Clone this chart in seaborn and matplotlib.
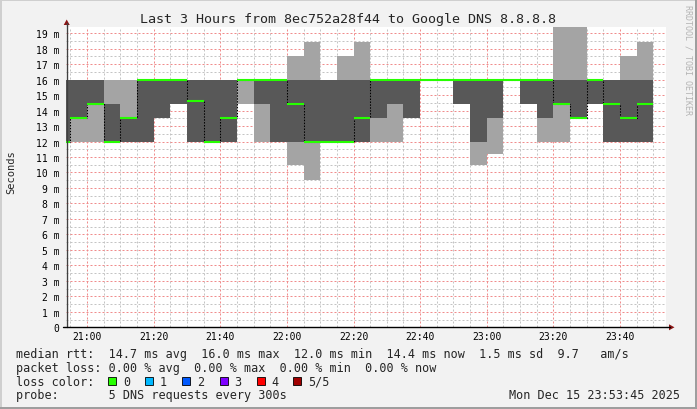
import matplotlib
matplotlib.use("Agg")
import numpy as np
import matplotlib.pyplot as plt
import seaborn as sns
from matplotlib.patches import Rectangle, Polygon
from matplotlib.lines import Line2D

# ---------------- data ----------------
title = "Last 3 Hours from 8ec752a28f44 to Google DNS 8.8.8.8"
first_interval_start = "20:50"
interval_minutes = 5
window_start = "20:53:45"
window_end = "23:53:45"

# five sorted DNS round-trip times (ms) per 5-minute interval
ping1 = [12, 12, 12, 12, 12, 12, 13.5, 14.4, 12, 12, 12, 14.4, 12, 12, 10.5, 9.5, 12, 12,
         12, 12, 12, 13.5, 16, 16, 14.4, 10.5, 11.2, 16, 14.4, 12, 12, 13.5, 14.4, 12, 12, 12]
ping2 = [12, 13.5, 14.4, 12, 12, 12, 13.5, 14.4, 12, 12, 12, 16, 14.4, 12, 12, 12, 12, 12,
         12, 13.5, 14.4, 13.5, 16, 16, 14.4, 12, 13.5, 16, 14.4, 13.5, 14.4, 13.5, 14.4, 12, 12, 12]
median = [12, 13.5, 14.4, 12, 13.5, 16, 16, 16, 14.6, 12, 13.5, 16, 16, 16, 14.4, 12, 12, 12,
          13.5, 16, 16, 16, 16, 16, 16, 16, 16, 16, 16, 16, 14.4, 13.5, 16, 14.4, 13.5, 14.4]
ping4 = [16, 16, 16, 14.4, 13.5, 16, 16, 16, 16, 16, 16, 16, 16, 16, 16, 16, 16, 16,
         16, 16, 16, 16, 16, 16, 16, 16, 16, 16, 16, 16, 16, 16, 16, 16, 16, 16]
ping5 = [16, 16, 16, 16, 16, 16, 16, 16, 16, 16, 16, 16, 16, 16, 17.5, 18.4, 16, 17.5,
         18.4, 16, 16, 16, 16, 16, 16, 16, 16, 16, 16, 16, 20, 20, 16, 16, 17.5, 18.4]

x_tick_labels = ["21:00", "21:20", "21:40", "22:00", "22:20", "22:40", "23:00", "23:20", "23:40"]
y_tick_values = list(range(0, 20))

legend_rtt = "median rtt:  14.7 ms avg  16.0 ms max  12.0 ms min  14.4 ms now  1.5 ms sd  9.7   am/s"
legend_loss = "packet loss: 0.00 % avg  0.00 % max  0.00 % min  0.00 % now"
loss_labels = ["0", "1", "2", "3", "4", "5/5"]
loss_colors = ["#26ff00", "#00b8ff", "#0059ff", "#7e00ff", "#ff0000", "#a00000"]
probe_line = "probe:       5 DNS requests every 300s"
date_text = "Mon Dec 15 23:53:45 2025"

# ---------------- style ----------------
sns.set_style("white")
plt.rcParams["font.family"] = ["DejaVu Sans Mono"]
MONO = "DejaVu Sans Mono"

BG = "#f2f2f2"
LIGHT = "#a4a4a4"
DARK = "#585858"
GREEN = "#26ff00"
ARROW = "#8b1515"

W, H = 697, 410


def fx(p):
    return p / W


def fy(p):
    return 1 - p / H


def to_min(s):
    parts = [int(v) for v in s.split(":")]
    while len(parts) < 3:
        parts.append(0)
    return parts[0] * 60 + parts[1] + parts[2] / 60.0


n = len(median)
starts = to_min(first_interval_start) + interval_minutes * np.arange(n)
edges = np.append(starts, starts[-1] + interval_minutes)


def ext(a):
    a = np.asarray(a, dtype=float)
    return np.append(a, a[-1])


fig = plt.figure(figsize=(W / 100, H / 100), dpi=100, facecolor=BG)

left, right, top, bottom = 66.2, 665.8, 27.5, 328.3
ax = fig.add_axes([fx(left), fy(bottom), fx(right) - fx(left), fy(top) - fy(bottom)])
ax.set_facecolor("white")

# smoke
ax.fill_between(edges, ext(ping1), ext(ping5), step="post", color=LIGHT, lw=0, zorder=2)
ax.fill_between(edges, ext(ping2), ext(ping4), step="post", color=DARK, lw=0, zorder=2.1)

# median: dotted step connector (seaborn) + green segments
sns.lineplot(x=edges, y=ext(median), drawstyle="steps-post", color="black",
             linestyle=(0, (1.4, 1.4)), linewidth=0.75, errorbar=None, ax=ax, zorder=3)
ax.hlines(median, starts, starts + interval_minutes, color=GREEN, lw=1.5, zorder=4)

# axes limits / ticks
ax.set_xlim(to_min(window_start), to_min(window_end))
ax.set_ylim(0, 19.43)
major_x = [to_min(s) for s in x_tick_labels]
ax.set_xticks(major_x)
ax.set_xticklabels(x_tick_labels)
ax.set_xticks(np.arange(to_min("20:55"), to_min(window_end), 5), minor=True)
ax.set_yticks(y_tick_values)
ax.set_yticklabels(["0" if v == 0 else f"{v} m" for v in y_tick_values])
ax.set_yticks(np.arange(0.5, 19.5, 0.5), minor=True)
ax.tick_params(axis="both", which="both", length=0, labelsize=7, colors="black")
ax.tick_params(axis="x", pad=2.6)
ax.tick_params(axis="y", pad=4.8)
ax.set_xlabel("")
ax.set_ylabel("")

ax.grid(True, which="minor", color="#c4c4c4", linestyle=(0, (2, 2)), linewidth=0.72, zorder=0.5)
ax.grid(True, which="major", color="#f08c8c", linestyle=(0, (2, 2)), linewidth=0.72, zorder=0.6)
ax.set_axisbelow(True)
for s in ax.spines.values():
    s.set_visible(False)

# axis lines and arrows (figure pixel coords)
fig.add_artist(Line2D([fx(66.7), fx(66.7)], [fy(328.3), fy(24)], color="#404040", lw=1.0))
fig.add_artist(Line2D([fx(63), fx(670)], [fy(328.3), fy(328.3)], color="black", lw=1.0))
fig.add_artist(Polygon([[fx(66.7), fy(20.5)], [fx(63.7), fy(26)], [fx(69.7), fy(26)]],
                       closed=True, color=ARROW, lw=0))
fig.add_artist(Polygon([[fx(674.5), fy(328.3)], [fx(669), fy(325.3)], [fx(669), fy(331.3)]],
                       closed=True, color=ARROW, lw=0))

# title and labels
fig.text(fx(348), fy(19.5), title, ha="center", va="center", fontsize=9.6, family=MONO)
fig.text(fx(11), fy(172.5), "Seconds", rotation=90, ha="center", va="center",
         fontsize=7.5, family=MONO)
fig.text(fx(688), fy(5), "RRDTOOL / TOBI OETIKER", rotation=-90, ha="center", va="top",
         fontsize=6, family=MONO, color="#b4b4b4")

# legend lines
LS = 8.5
fig.text(fx(16), fy(354.3), legend_rtt, ha="left", va="center", fontsize=LS, family=MONO)
fig.text(fx(16), fy(368.3), legend_loss, ha="left", va="center", fontsize=LS, family=MONO)
fig.text(fx(16), fy(382.3), "loss color:", ha="left", va="center", fontsize=LS, family=MONO)
box_x = [108.4, 145.3, 182.2, 219.6, 256.9, 293.3]
for lab, col, bx in zip(loss_labels, loss_colors, box_x):
    fig.add_artist(Rectangle((fx(bx), fy(386.3)), 8 / W, 8 / H, facecolor=col,
                             edgecolor="black", lw=0.6))
    fig.text(fx(bx + 14.6), fy(382.3), lab, ha="left", va="center", fontsize=LS, family=MONO)
fig.text(fx(16), fy(396), probe_line, ha="left", va="center", fontsize=LS, family=MONO)
fig.text(fx(680), fy(396), date_text, ha="right", va="center", fontsize=LS, family=MONO)

# 3D frame
fig.add_artist(Rectangle((0, fy(2)), 1, 2 / H, facecolor="#cfcfcf", lw=0))
fig.add_artist(Rectangle((0, 0), 2 / W, 1, facecolor="#cfcfcf", lw=0))
fig.add_artist(Rectangle((0, 0), 1, 2 / H, facecolor="#9e9e9e", lw=0))
fig.add_artist(Rectangle((fx(695), 0), 2 / W, 1, facecolor="#9e9e9e", lw=0))

fig.savefig("out.png", dpi=100, facecolor=BG)
